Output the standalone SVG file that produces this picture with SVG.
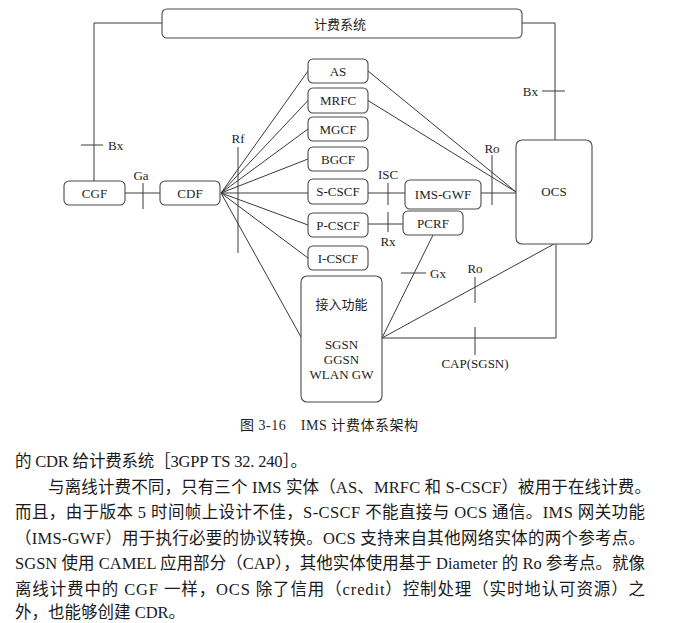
<svg xmlns="http://www.w3.org/2000/svg" width="698" height="623" viewBox="0 0 698 623">
<style>
  .box { fill: #ffffff; stroke: #4a4a4a; stroke-width: 1.1; }
  .ln { fill: none; stroke: #3a3a3a; stroke-width: 1; }
  .t { font-family: "Liberation Serif", "Noto Sans CJK SC", serif; font-size: 13px; fill: #1e1e1e; }
  .c { text-anchor: middle; }
  .e { text-anchor: end; }
  .cap { font-family: "Liberation Serif", "Noto Sans CJK SC", serif; font-size: 14px; fill: #1e1e1e; }
  .body { font-family: "Liberation Serif", "Noto Sans CJK SC", serif; font-size: 16.5px; fill: #1a1a1a; }
</style>
<rect width="698" height="623" fill="#ffffff"/>

<g id="connectors">
  <!-- CGF to billing system -->
  <polyline class="ln" points="94,182 94,23 162,23"/>
  <line class="ln" x1="81" y1="145" x2="103" y2="145"/>
  <!-- billing system to OCS -->
  <polyline class="ln" points="522,23 555,23 555,140"/>
  <line class="ln" x1="542" y1="91" x2="565" y2="91"/>
  <!-- CGF - CDF -->
  <line class="ln" x1="125" y1="193" x2="160" y2="193"/>
  <line class="ln" x1="143" y1="183" x2="143" y2="209"/>
  <!-- Rf fan from CDF -->
  <line class="ln" x1="221" y1="193" x2="308" y2="71"/>
  <line class="ln" x1="221" y1="193" x2="308" y2="100.5"/>
  <line class="ln" x1="221" y1="193" x2="308" y2="129"/>
  <line class="ln" x1="221" y1="193" x2="308" y2="159"/>
  <line class="ln" x1="221" y1="193" x2="308" y2="193"/>
  <line class="ln" x1="221" y1="193" x2="308" y2="225"/>
  <line class="ln" x1="221" y1="193" x2="308" y2="258"/>
  <line class="ln" x1="221" y1="193" x2="301" y2="337"/>
  <line class="ln" x1="238" y1="147" x2="238" y2="253"/>
  <!-- AS, MRFC to OCS -->
  <line class="ln" x1="368" y1="71" x2="516" y2="192"/>
  <line class="ln" x1="368" y1="100.5" x2="516" y2="192"/>
  <!-- S-CSCF - IMS-GWF (ISC) -->
  <line class="ln" x1="368" y1="193" x2="405" y2="193"/>
  <line class="ln" x1="388" y1="183" x2="388" y2="205"/>
  <!-- IMS-GWF - OCS (Ro) -->
  <line class="ln" x1="481" y1="193" x2="516" y2="193"/>
  <line class="ln" x1="492" y1="155" x2="492" y2="205"/>
  <!-- P-CSCF - PCRF (Rx) -->
  <line class="ln" x1="368" y1="224" x2="403" y2="224"/>
  <line class="ln" x1="388" y1="212" x2="388" y2="232"/>
  <!-- PCRF - access (Gx) -->
  <line class="ln" x1="433" y1="235" x2="382" y2="338"/>
  <line class="ln" x1="401" y1="273" x2="426" y2="273"/>
  <!-- access - OCS (Ro) -->
  <line class="ln" x1="382" y1="338" x2="554" y2="244"/>
  <line class="ln" x1="475" y1="277" x2="475" y2="303"/>
  <!-- access - OCS (CAP) -->
  <polyline class="ln" points="382,338 556,338 556,244"/>
  <line class="ln" x1="475" y1="327" x2="475" y2="355"/>
</g>

<g id="connector-labels">
  <text class="t" x="108" y="149.5">Bx</text>
  <text class="t e" x="538" y="95.5">Bx</text>
  <text class="t c" x="141" y="180">Ga</text>
  <text class="t c" x="238" y="142.5">Rf</text>
  <text class="t c" x="388" y="178.5">ISC</text>
  <text class="t c" x="388" y="246">Rx</text>
  <text class="t c" x="492" y="152.5">Ro</text>
  <text class="t" x="430" y="277.5">Gx</text>
  <text class="t c" x="475" y="272.5">Ro</text>
  <text class="t c" x="475" y="367.5">CAP(SGSN)</text>
</g>

<g id="billing-system">
  <rect class="box" x="162" y="9" width="360" height="29" rx="5"/>
  <text class="t c" x="340" y="29">计费系统</text>
</g>
<g id="CGF">
  <rect class="box" x="64" y="181" width="61" height="24" rx="5"/>
  <text class="t c" x="94.5" y="197.5">CGF</text>
</g>
<g id="CDF">
  <rect class="box" x="160" y="181" width="60" height="24" rx="5"/>
  <text class="t c" x="190" y="197.5">CDF</text>
</g>
<g id="AS">
  <rect class="box" x="308" y="59" width="60" height="24" rx="5"/>
  <text class="t c" x="338" y="75.5">AS</text>
</g>
<g id="MRFC">
  <rect class="box" x="308" y="88" width="60" height="25" rx="5"/>
  <text class="t c" x="338" y="105">MRFC</text>
</g>
<g id="MGCF">
  <rect class="box" x="308" y="117" width="60" height="24" rx="5"/>
  <text class="t c" x="338" y="133.5">MGCF</text>
</g>
<g id="BGCF">
  <rect class="box" x="308" y="147" width="60" height="24" rx="5"/>
  <text class="t c" x="338" y="163.5">BGCF</text>
</g>
<g id="S-CSCF">
  <rect class="box" x="308" y="179" width="60" height="25" rx="5"/>
  <text class="t c" x="338" y="196">S-CSCF</text>
</g>
<g id="P-CSCF">
  <rect class="box" x="308" y="213" width="60" height="24" rx="5"/>
  <text class="t c" x="338" y="229.5">P-CSCF</text>
</g>
<g id="I-CSCF">
  <rect class="box" x="308" y="246" width="60" height="24" rx="5"/>
  <text class="t c" x="338" y="262.5">I-CSCF</text>
</g>
<g id="access">
  <rect class="box" x="301" y="276" width="81" height="126" rx="6"/>
  <text class="t c" x="341.5" y="308.5">接入功能</text>
  <text class="t c" x="341.5" y="348.5">SGSN</text>
  <text class="t c" x="341.5" y="363.5">GGSN</text>
  <text class="t c" x="341.5" y="378.5">WLAN GW</text>
</g>
<g id="IMS-GWF">
  <rect class="box" x="405" y="180" width="76" height="29" rx="5"/>
  <text class="t c" x="443" y="198.5">IMS-GWF</text>
</g>
<g id="PCRF">
  <rect class="box" x="403" y="211" width="60" height="24" rx="5"/>
  <text class="t c" x="433" y="227.5">PCRF</text>
</g>
<g id="OCS">
  <rect class="box" x="516" y="140" width="76" height="104" rx="6"/>
  <text class="t c" x="554" y="196">OCS</text>
</g>

<g id="caption">
  <text class="cap" x="240" y="430" textLength="178" lengthAdjust="spacing">图 3-16　IMS 计费体系架构</text>
</g>

<g id="body-text">
  <text class="body" x="15" y="467" textLength="292" lengthAdjust="spacing">的 CDR 给计费系统［3GPP TS 32. 240］。</text>
  <text class="body" x="48" y="492.5" textLength="603" lengthAdjust="spacing">与离线计费不同，只有三个 IMS 实体（AS、MRFC 和 S-CSCF）被用于在线计费。</text>
  <text class="body" x="15" y="518" textLength="630" lengthAdjust="spacing">而且，由于版本 5 时间帧上设计不佳，S-CSCF 不能直接与 OCS 通信。IMS 网关功能</text>
  <text class="body" x="15" y="543.5" textLength="630" lengthAdjust="spacing">（IMS-GWF）用于执行必要的协议转换。OCS 支持来自其他网络实体的两个参考点。</text>
  <text class="body" x="15" y="569" textLength="630" lengthAdjust="spacing">SGSN 使用 CAMEL 应用部分（CAP），其他实体使用基于 Diameter 的 Ro 参考点。就像</text>
  <text class="body" x="15" y="594.5" textLength="630" lengthAdjust="spacing">离线计费中的 CGF 一样，OCS 除了信用（credit）控制处理（实时地认可资源）之</text>
  <text class="body" x="15" y="618">外，也能够创建 CDR。</text>
</g>
</svg>
